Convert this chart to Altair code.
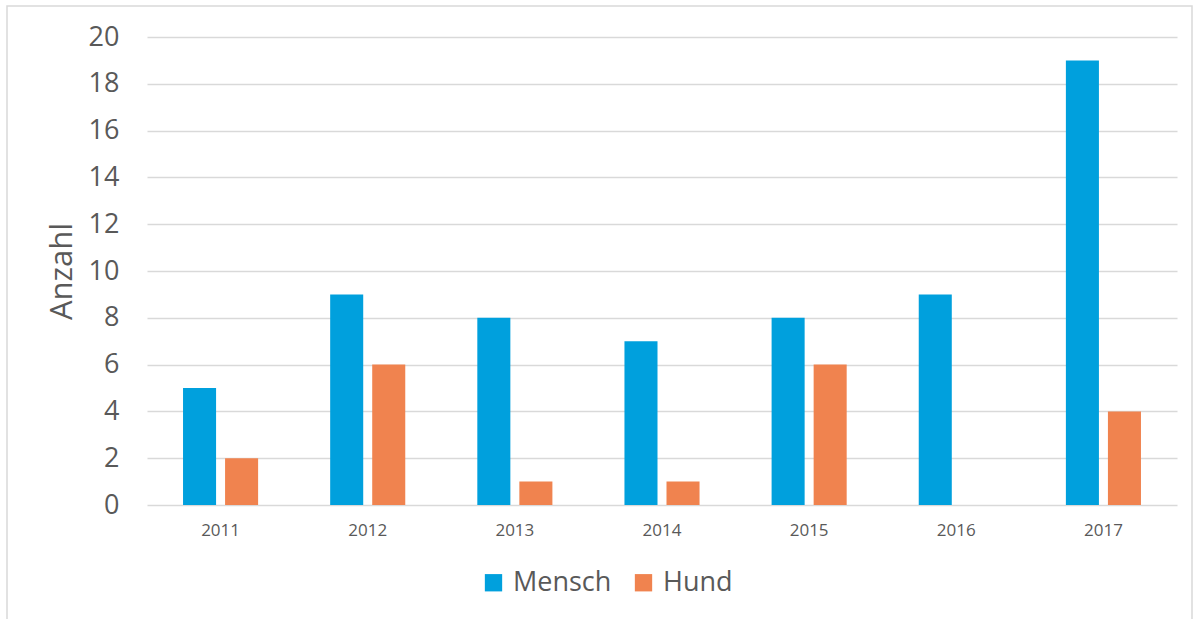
import altair as alt
import pandas as pd

# Anzahl der Fälle je Jahr
years = ["2011", "2012", "2013", "2014", "2015", "2016", "2017"]
mensch = [5, 9, 8, 7, 8, 9, 19]
hund = [2, 6, 1, 1, 6, 0, 4]
series = ["Mensch", "Hund"]
colors = ["#00A0DD", "#F0834F"]

rows = []
for y, m, h in zip(years, mensch, hund):
    rows.append({"Jahr": y, "Gruppe": "Mensch", "Anzahl": m})
    rows.append({"Jahr": y, "Gruppe": "Hund", "Anzahl": h})
df = pd.DataFrame(rows)

FONT = "Open Sans"
GREY = "#595959"

bars = alt.Chart(df).mark_bar().encode(
    x=alt.X("Jahr:N", sort=years, title=None,
            scale=alt.Scale(paddingInner=0, paddingOuter=0),
            axis=alt.Axis(labelAngle=0, labelFontSize=17, labelColor=GREY,
                          labelFont=FONT, labelPadding=17, ticks=False,
                          domain=False, grid=False)),
    xOffset=alt.XOffset("Gruppe:N", sort=series,
                        scale=alt.Scale(paddingInner=0.214, paddingOuter=0.857)),
    y=alt.Y("Anzahl:Q", title="Anzahl",
            scale=alt.Scale(domain=[0, 20], nice=False),
            axis=alt.Axis(values=list(range(0, 21, 2)), labelFontSize=27,
                          labelColor=GREY, labelFont=FONT, labelPadding=28,
                          ticks=False, domain=False, gridColor="#d9d9d9",
                          gridWidth=1.3, titleFont=FONT, titleFontSize=31,
                          titleFontWeight="normal", titleColor=GREY,
                          titlePadding=10, titleY=234)),
    color=alt.Color("Gruppe:N", sort=series,
                    scale=alt.Scale(domain=series, range=colors),
                    legend=alt.Legend(title=None, orient="none", direction="horizontal",
                                      legendX=333, legendY=532, symbolType="square",
                                      symbolSize=300, symbolStrokeWidth=0,
                                      labelFontSize=27, labelColor=GREY,
                                      labelFont=FONT, columnPadding=18,
                                      labelOffset=6)),
)

# thin frame around the whole chart
frame = alt.Chart().mark_rect(fill=None, stroke="#d9d9d9", strokeWidth=1.5).encode(
    x=alt.value(-140), x2=alt.value(1045), y=alt.value(-31), y2=alt.value(600)
)

chart = alt.layer(bars, frame).properties(
    width=1030, height=468,
    background="white",
    padding={"left": 147, "top": 37, "right": 21, "bottom": 114},
    autosize=alt.AutoSizeParams(type="none"),
).configure_view(stroke="transparent", strokeWidth=0)

chart.save("out.html", embed_options={"renderer": "svg", "actions": False})
